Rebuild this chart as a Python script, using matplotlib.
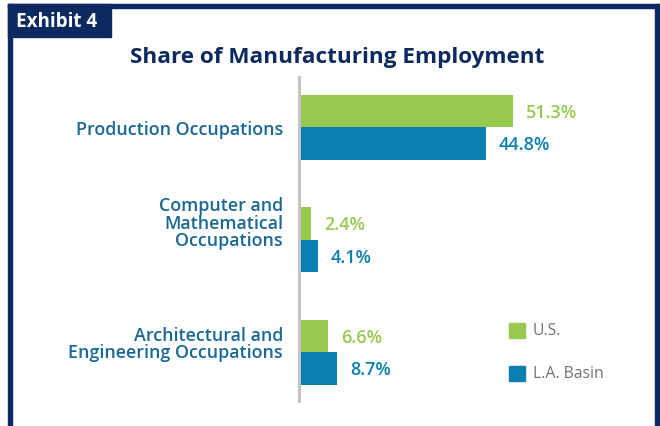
import matplotlib
matplotlib.use("Agg")
import matplotlib.pyplot as plt
from matplotlib.patches import Rectangle

categories = ["Production Occupations",
              "Computer and\nMathematical\nOccupations",
              "Architectural and\nEngineering Occupations"]
us_values = [51.3, 2.4, 6.6]
la_values = [44.8, 4.1, 8.7]
series_names = ["U.S.", "L.A. Basin"]
title = "Share of Manufacturing Employment"
exhibit = "Exhibit 4"

GREEN = "#98c94f"
BLUE = "#0a7fb0"
NAVY = "#0c2a5f"
LABEL = "#1a6894"
FONT = ["Open Sans", "DejaVu Sans"]

W, H = 660, 427
fig = plt.figure(figsize=(W / 100, H / 100), dpi=100)
fig.patch.set_facecolor("white")

def fx(px):
    return px / W

def fy(py):
    return 1 - py / H

# frame
fig.patches.append(Rectangle((fx(8), fy(9)), fx(652), 4 / H, transform=fig.transFigure,
                             color=NAVY, zorder=5))
fig.patches.append(Rectangle((fx(8), 0), fx(4), fy(5), transform=fig.transFigure,
                             color=NAVY, zorder=5))
fig.patches.append(Rectangle((fx(655), 0), fx(5), fy(5), transform=fig.transFigure,
                             color=NAVY, zorder=5))
fig.patches.append(Rectangle((fx(8), fy(38)), fx(103), 33 / H, transform=fig.transFigure,
                             color=NAVY, zorder=5))
fig.text(fx(16), fy(22), exhibit, color="white", fontsize=13.6, fontweight="bold",
         family=FONT, ha="left", va="center", zorder=6)

fig.text(fx(337), fy(57), title, color=NAVY, fontsize=16.2, fontweight="bold",
         family=FONT, ha="center", va="center")

# axes: x scale 4.13 px per %, groups 112.5 px apart
px_per_unit = 4.13
ax_left, ax_top, ax_bottom = 301, 78, 402
xmax = 80
ax = fig.add_axes([fx(ax_left), fy(ax_bottom), fx(xmax * px_per_unit), (ax_bottom - ax_top) / H])
grp = 112.5
ymin = -(128 - ax_top) / grp
ymax = (ax_bottom - 128) / grp
ax.set_xlim(0, xmax)
ax.set_ylim(ymax, ymin)

bh = 32.5 / grp
pos = list(range(len(categories)))
ax.barh([p - bh / 2 for p in pos], us_values, height=bh, color=GREEN, label=series_names[0])
ax.barh([p + bh / 2 for p in pos], la_values, height=bh, color=BLUE, label=series_names[1])

pad = 13 / px_per_unit
for p, v in zip(pos, us_values):
    ax.text(v + pad, p - bh / 2 + 0.01, f"{v:.1f}%", color=GREEN, fontsize=13,
            fontweight="semibold", family=FONT, ha="left", va="center")
for p, v in zip(pos, la_values):
    ax.text(v + pad, p + bh / 2 + 0.01, f"{v:.1f}%", color=BLUE, fontsize=13,
            fontweight="semibold", family=FONT, ha="left", va="center")

label_shift = [-0.015, 0.15, 0.075]
for p, c, s in zip(pos, categories, label_shift):
    ax.text(-18 / px_per_unit, p - s, c, color=LABEL, fontsize=12.9, fontweight="semibold",
            family=FONT, ha="right", va="center", multialignment="right", linespacing=0.95)

for sp in ["top", "right", "bottom"]:
    ax.spines[sp].set_visible(False)
ax.spines["left"].set_color("#c4c4c4")
ax.spines["left"].set_linewidth(2.2)
ax.spines["left"].set_position(("outward", 1.5))
ax.set_xticks([])
ax.set_yticks([])
ax.patch.set_alpha(0)

# legend
for i, (name, col) in enumerate(zip(series_names, [GREEN, BLUE])):
    yc = 331 + i * 43
    fig.patches.append(Rectangle((fx(509), fy(yc + 7.5)), fx(15.5), 15 / H,
                                 transform=fig.transFigure, color=col))
    fig.text(fx(533), fy(yc), name, color="#737373", fontsize=11.3, family=FONT,
             ha="left", va="center")

fig.savefig("out.png", dpi=100)
